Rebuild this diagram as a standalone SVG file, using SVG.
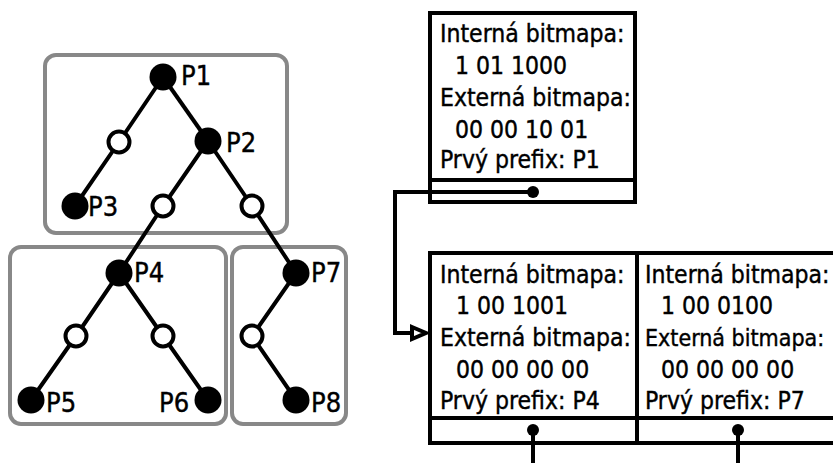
<svg xmlns="http://www.w3.org/2000/svg" width="833" height="463" viewBox="0 0 833 463">
<defs>
<style>
.grp{fill:none;stroke:#888;stroke-width:4}
.edge{stroke:#000;stroke-width:4;fill:none}
.full{fill:#000}
.open{fill:#fff;stroke:#000;stroke-width:4}
.lbl{font-family:"DejaVu Sans Condensed","DejaVu Sans",sans-serif;font-stretch:condensed;font-size:27px;fill:#000;stroke:#000;stroke-width:0.4}
.txt{font-family:"DejaVu Sans Condensed","DejaVu Sans",sans-serif;font-stretch:condensed;font-size:24.5px;fill:#000;stroke:#000;stroke-width:0.4}
.box{fill:#fff;stroke:#000;stroke-width:4}
.wire{stroke:#000;stroke-width:4;fill:none}
</style>
</defs>
<rect width="833" height="463" fill="#fff"/>

<g id="groups">
<rect class="grp" x="45" y="55" width="242" height="178" rx="11"/>
<rect class="grp" x="10" y="247" width="216" height="177" rx="11"/>
<rect class="grp" x="232" y="247" width="114" height="177" rx="11"/>
</g>

<g id="edges">
<polyline class="edge" points="163,77 119,142 75,206"/>
<line class="edge" x1="163" y1="77" x2="208" y2="141"/>
<polyline class="edge" points="208,141 163,206 119,273"/>
<polyline class="edge" points="208,141 252,206 296,273"/>
<polyline class="edge" points="119,273 76,336 31,400"/>
<polyline class="edge" points="119,273 163,336 208,400"/>
<polyline class="edge" points="296,273 252,336 296,400"/>
</g>

<g id="P1"><circle class="full" cx="163" cy="77" r="13.5"/><text class="lbl" x="181" y="85">P1</text></g>
<g id="n1"><circle class="open" cx="119" cy="142" r="10.5"/></g>
<g id="P2"><circle class="full" cx="208" cy="141" r="13.5"/><text class="lbl" x="226" y="152">P2</text></g>
<g id="P3"><circle class="full" cx="75" cy="206" r="13.5"/><text class="lbl" x="88" y="216">P3</text></g>
<g id="n2"><circle class="open" cx="163" cy="206" r="10.5"/></g>
<g id="n3"><circle class="open" cx="252" cy="206" r="10.5"/></g>
<g id="P4"><circle class="full" cx="119" cy="273" r="13.5"/><text class="lbl" x="134" y="282">P4</text></g>
<g id="P7"><circle class="full" cx="296" cy="273" r="13.5"/><text class="lbl" x="311" y="282">P7</text></g>
<g id="n4"><circle class="open" cx="76" cy="336" r="10.5"/></g>
<g id="n5"><circle class="open" cx="163" cy="336" r="10.5"/></g>
<g id="n6"><circle class="open" cx="252" cy="336" r="10.5"/></g>
<g id="P5"><circle class="full" cx="31" cy="400" r="13.5"/><text class="lbl" x="46" y="412">P5</text></g>
<g id="P6"><circle class="full" cx="208" cy="400" r="13.5"/><text class="lbl" x="159" y="412">P6</text></g>
<g id="P8"><circle class="full" cx="296" cy="400" r="13.5"/><text class="lbl" x="311" y="412">P8</text></g>

<g id="nodeTop">
<rect class="box" x="430" y="13" width="205" height="189"/>
<line class="wire" x1="430" y1="180" x2="635" y2="180"/>
<text class="txt" x="440" y="42">Interná bitmapa:</text>
<text class="txt" x="455" y="74">1 01 1000</text>
<text class="txt" x="440" y="106">Externá bitmapa:</text>
<text class="txt" x="455" y="138">00 00 10 01</text>
<text class="txt" x="440" y="168">Prvý prefix: P1</text>
</g>

<g id="nodeP4">
<rect class="box" x="430" y="253" width="207" height="190"/>
<line class="wire" x1="430" y1="418" x2="637" y2="418"/>
<text class="txt" x="440" y="283">Interná bitmapa:</text>
<text class="txt" x="456" y="314">1 00 1001</text>
<text class="txt" x="440" y="346">Externá bitmapa:</text>
<text class="txt" x="456" y="378">00 00 00 00</text>
<text class="txt" x="440" y="409">Prvý prefix: P4</text>
</g>

<g id="nodeP7">
<rect class="box" x="637" y="253" width="220" height="190"/>
<line class="wire" x1="637" y1="418" x2="857" y2="418"/>
<text class="txt" x="645" y="283">Interná bitmapa:</text>
<text class="txt" x="661" y="314">1 00 0100</text>
<text class="txt" x="645" y="346" style="font-size:23px">Externá bitmapa:</text>
<text class="txt" x="661" y="378">00 00 00 00</text>
<text class="txt" x="645" y="409">Prvý prefix: P7</text>
</g>

<g id="connectors">
<polyline class="wire" points="533,192 395,192 395,333 412,333"/>
<circle cx="533" cy="192" r="6" fill="#000"/>
<polygon points="412,327 426,333 412,339" fill="#fff" stroke="#000" stroke-width="4" stroke-linejoin="miter"/>
<line class="wire" x1="533" y1="430" x2="533" y2="463"/>
<circle cx="533" cy="430" r="6" fill="#000"/>
<line class="wire" x1="738" y1="430" x2="738" y2="463"/>
<circle cx="738" cy="430" r="6" fill="#000"/>
</g>
</svg>
